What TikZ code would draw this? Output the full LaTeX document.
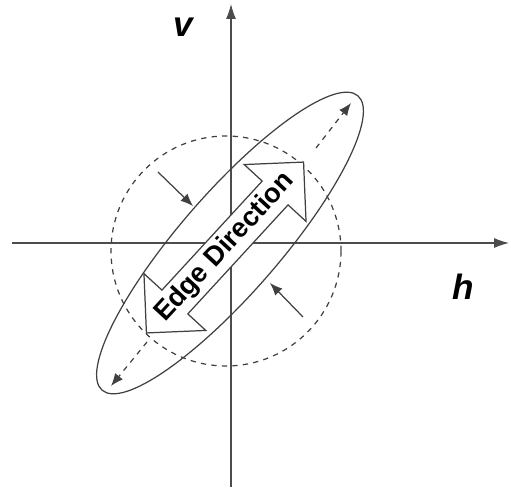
\documentclass[tikz,border=0pt]{standalone}
\usepackage{fontspec}
\setsansfont{Liberation Sans}
\usetikzlibrary{arrows.meta, shapes.arrows, shapes.geometric}

\begin{document}
\begin{tikzpicture}

\tikzset{axis/.style = {draw=black!70, line width=0.6pt, -{Latex[length=3mm,width=2mm]}}}
\tikzset{squeeze/.style = {draw=black!75, line width=0.7pt, -{Latex[length=2.5mm,width=2mm]}}}
\tikzset{stretch/.style = {draw=black!75, line width=0.7pt, dashed, -{Latex[length=2.5mm,width=2mm]}}}
\tikzset{lbl/.style = {font=\sffamily\bfseries\itshape\fontsize{20}{24}\selectfont}}
\useasboundingbox (-4.62,-5.04) rectangle (5.6,4.86);
% axes
\coordinate (o) at (0,0);
\coordinate (hl) at (-4.38,0);
\coordinate (hr) at (5.56,0);
\coordinate (vb) at (0,-4.88);
\coordinate (vt) at (0,4.78);
\draw[axis] (hl) -- (hr);
\draw[axis] (vb) -- (vt);
\node[lbl] (v) at (-0.96,4.32) {v};
\node[lbl] (h) at (4.64,-0.88) {h};
% circle and ellipse
\node[circle, draw=black!75, dashed, line width=0.7pt, minimum size=4.6cm, inner sep=0pt] (circ) at (-0.1,-0.16) {};
\node[ellipse, draw=black!75, line width=0.7pt, minimum width=7.8cm, minimum height=2cm, inner sep=0pt, rotate=49] (ell) at (-0.02,0) {};
% edge direction arrow
\node[double arrow, draw=black!75, line width=0.7pt, fill=white, rotate=47.4,
      minimum height=4.62cm, minimum width=1.68cm, double arrow head extend=0.42cm,
      inner sep=1pt, font=\sffamily\bfseries\fontsize{15.5}{18}\selectfont] (edge) at (-0.12,-0.09) {Edge Direction};
% stretch and squeeze arrows
\coordinate (s1) at (1.7,1.9);
\coordinate (t1) at (2.4,2.8);
\coordinate (s2) at (-1.68,-1.98);
\coordinate (t2) at (-2.4,-2.86);
\draw[stretch] (s1) -- (t1);
\draw[stretch] (s2) -- (t2);
\coordinate (p1) at (-1.46,1.42);
\coordinate (q1) at (-0.76,0.74);
\coordinate (p2) at (1.44,-1.48);
\coordinate (q2) at (0.78,-0.8);
\draw[squeeze] (p1) -- (q1);
\draw[squeeze] (p2) -- (q2);
\end{tikzpicture}
\end{document}
